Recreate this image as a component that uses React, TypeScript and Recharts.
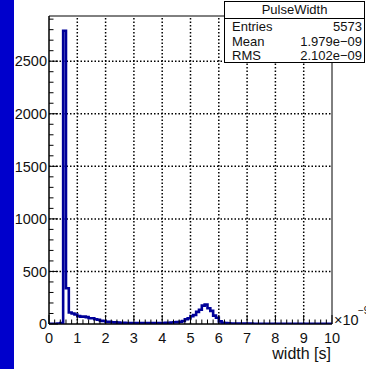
import { ComposedChart, Line, XAxis, YAxis, ReferenceLine, ReferenceArea } from 'recharts';

// PulseWidth histogram: 100 bins of 0.1 (x1e-9 s) from 0 to 10
const BIN_WIDTH = 0.1;
const COUNTS = [
  2, 3, 3, 5, 10, 2790, 340, 110, 100, 90,
  75, 70, 70, 65, 55, 55, 45, 40, 30, 28,
  22, 20, 17, 15, 13, 12, 11, 10, 10, 9,
  9, 8, 8, 8, 8, 8, 9, 9, 9, 10,
  10, 11, 12, 14, 16, 18, 22, 28, 45, 55,
  75, 85, 115, 135, 175, 185, 150, 125, 80, 60,
  25, 12, 8, 6, 5, 5, 4, 4, 4, 4,
  4, 4, 3, 3, 3, 3, 3, 3, 3, 3,
  3, 3, 3, 3, 3, 3, 3, 3, 3, 3,
  3, 3, 3, 3, 3, 3, 3, 3, 3, 3,
];

const X_MAX = 10;
const Y_MAX = 2930;
const X_MAJOR = [0, 1, 2, 3, 4, 5, 6, 7, 8, 9, 10];
const Y_MAJOR = [0, 500, 1000, 1500, 2000, 2500];
const X_MINOR_STEP = 0.2;
const Y_MINOR_STEP = 100;

const STATS_TITLE = 'PulseWidth';
const STATS_ROWS = [
  ['Entries', '5573'],
  ['Mean', '1.979e\u221209'],
  ['RMS', '2.102e\u221209'],
];

const FONT = '"Liberation Sans", Arial, Helvetica, sans-serif';
const HIST_COLOR = '#000099';

const xTicks = Array.from({ length: Math.round(X_MAX / X_MINOR_STEP) + 1 }, (_, i) =>
  Number((i * X_MINOR_STEP).toFixed(1))
);
const yTicks = Array.from({ length: Math.floor(Y_MAX / Y_MINOR_STEP) + 1 }, (_, i) => i * Y_MINOR_STEP);

const data = [
  ...COUNTS.map((c, i) => ({ x: Number((i * BIN_WIDTH).toFixed(1)), y: c })),
  { x: X_MAX, y: COUNTS[COUNTS.length - 1] },
];

const XTick = (props: any) => {
  const { x, y, payload } = props;
  const v = payload.value as number;
  const major = X_MAJOR.some((m) => Math.abs(m - v) < 1e-6);
  return (
    <g>
      <line x1={x} x2={x} y1={y} y2={y - (major ? 9 : 4.5)} stroke="#000" strokeWidth={1} />
      {major && (
        <text x={x} y={y + 18.5} textAnchor="middle" fontSize={14.5} fontFamily={FONT} fill="#111">
          {Math.round(v)}
        </text>
      )}
    </g>
  );
};

const YTick = (props: any) => {
  const { x, y, payload } = props;
  const v = payload.value as number;
  const major = Y_MAJOR.includes(v);
  return (
    <g>
      <line x1={x} x2={x + (major ? 9 : 4.5)} y1={y} y2={y} stroke="#000" strokeWidth={1} />
      {major && (
        <text x={x - 2} y={y} dy="0.36em" textAnchor="end" fontSize={14.5} fontFamily={FONT} fill="#111">
          {v}
        </text>
      )}
    </g>
  );
};

export default function App() {
  return (
    <div
      style={{
        position: 'absolute',
        left: 0,
        top: 0,
        width: 366,
        height: 369,
        overflow: 'hidden',
        background: '#fff',
      }}
    >
      <ComposedChart width={366} height={369} data={data} margin={{ top: 16, right: 34, bottom: 0, left: 0 }}>
        <XAxis
          dataKey="x"
          type="number"
          domain={[0, X_MAX]}
          ticks={xTicks}
          interval={0}
          tickLine={false}
          tickSize={0}
          tickMargin={0}
          axisLine={{ stroke: '#000' }}
          height={45}
          tick={<XTick />}
          allowDataOverflow
        />
        <YAxis
          type="number"
          domain={[0, Y_MAX]}
          ticks={yTicks}
          interval={0}
          tickLine={false}
          tickSize={0}
          tickMargin={0}
          axisLine={{ stroke: '#000' }}
          width={49}
          tick={<YTick />}
          allowDataOverflow
        />
        {X_MAJOR.slice(1, -1).map((v) => (
          <ReferenceLine key={'gx' + v} x={v} stroke="#000" strokeWidth={1.5} strokeDasharray="1.5 2" />
        ))}
        {Y_MAJOR.slice(1).map((v) => (
          <ReferenceLine key={'gy' + v} y={v} stroke="#000" strokeWidth={1.5} strokeDasharray="1.5 2" />
        ))}
        <ReferenceArea x1={0} x2={X_MAX} y1={0} y2={Y_MAX} fill="none" stroke="#000" strokeWidth={1} />
        <Line
          type="stepAfter"
          dataKey="y"
          stroke={HIST_COLOR}
          strokeWidth={2.6}
          dot={false}
          activeDot={false}
          isAnimationActive={false}
        />
      </ComposedChart>

      <svg
        width={366}
        height={369}
        style={{ position: 'absolute', left: 0, top: 0, pointerEvents: 'none' }}
      >
        <text x={334} y={325} fontSize={14.5} fontFamily={FONT} fill="#111">
          {'\u00d710'}
        </text>
        <text x={358} y={314} fontSize={10} fontFamily={FONT} fill="#111">
          {'\u22129'}
        </text>
        <text x={331} y={359} textAnchor="end" fontSize={16} fontFamily={FONT} fill="#111">
          width [s]
        </text>
      </svg>

      {/* stats box */}
      <div
        style={{
          position: 'absolute',
          left: 224,
          top: 1,
          width: 139,
          height: 60,
          border: '1px solid #000',
          background: '#fff',
          fontFamily: FONT,
          fontSize: 13,
          color: '#111',
          lineHeight: '14.5px',
        }}
      >
        <div style={{ height: 16, borderBottom: '1px solid #000', textAlign: 'center', lineHeight: '16px' }}>
          {STATS_TITLE}
        </div>
        <div style={{ padding: '1px 2px 0 7px' }}>
          {STATS_ROWS.map(([k, v]) => (
            <div key={k} style={{ display: 'flex', justifyContent: 'space-between' }}>
              <span>{k}</span>
              <span>{v}</span>
            </div>
          ))}
        </div>
      </div>

      <div style={{ position: 'absolute', left: 0, top: 0, width: 14, height: 369, background: '#0000cc' }} />
    </div>
  );
}
